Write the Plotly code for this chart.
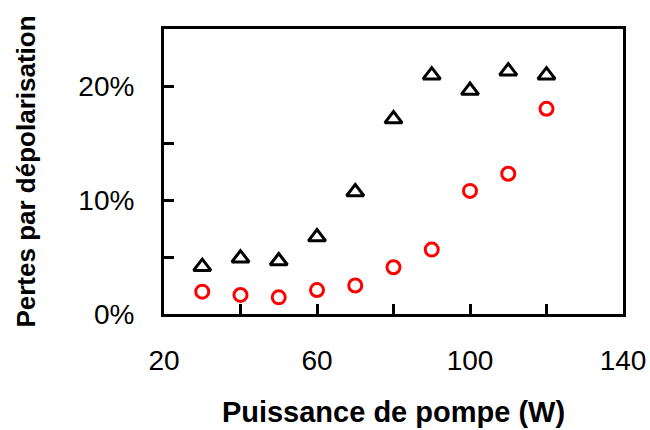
import plotly.graph_objects as go

# pump power (W)
puissance = [30, 40, 50, 60, 70, 80, 90, 100, 110, 120]

# depolarisation losses (fraction)
pertes_triangles = [0.0415, 0.049, 0.0465, 0.0675, 0.107, 0.171, 0.2095, 0.196, 0.213, 0.2095]
pertes_cercles = [0.0196, 0.0167, 0.0146, 0.021, 0.025, 0.041, 0.0565, 0.108, 0.123, 0.180]

FONT = "Liberation Sans, Arial, sans-serif"

fig = go.Figure()
fig.add_trace(go.Scatter(x=puissance, y=pertes_triangles, mode="markers",
                         marker=dict(symbol="triangle-up-open", size=15, color="black",
                                     line=dict(width=3, color="black"))))
fig.add_trace(go.Scatter(x=puissance, y=pertes_cercles, mode="markers",
                         marker=dict(symbol="circle-open", size=13, color="red",
                                     line=dict(width=3, color="red"))))

fig.update_layout(
    width=650, height=430,
    margin=dict(l=164, r=27, t=29, b=116),
    paper_bgcolor="white", plot_bgcolor="white",
    showlegend=False,
    font=dict(family=FONT, color="black", size=28),
)
fig.update_xaxes(
    range=[20, 140], dtick=40, tick0=20,
    ticks="inside", ticklen=10, tickwidth=3, tickcolor="black",
    minor=dict(dtick=20, tick0=20, ticks="inside", ticklen=10, tickwidth=3, tickcolor="black"),
    showline=True, linewidth=3, linecolor="black", mirror=True,
    showgrid=False, zeroline=False, automargin=False,
    ticklabelstandoff=19,
    title=dict(text="<b>Puissance de pompe (W)</b>", font=dict(size=29), standoff=28),
)
fig.update_yaxes(
    range=[0, 0.25], dtick=0.1, tick0=0, tickformat=".0%",
    ticks="inside", ticklen=10, tickwidth=3, tickcolor="black",
    minor=dict(dtick=0.05, tick0=0, ticks="inside", ticklen=10, tickwidth=3, tickcolor="black"),
    showline=True, linewidth=3, linecolor="black", mirror=True,
    showgrid=False, zeroline=False, automargin=False,
    ticklabelstandoff=21,
    title=dict(text="<b>Pertes par dépolarisation</b>", font=dict(size=26), standoff=36),
)

# page body has a default margin; drop it so the figure sits at the window corner
fig.write_html("out.html", config={"displayModeBar": False},
               post_script="document.body.style.margin='0';")
